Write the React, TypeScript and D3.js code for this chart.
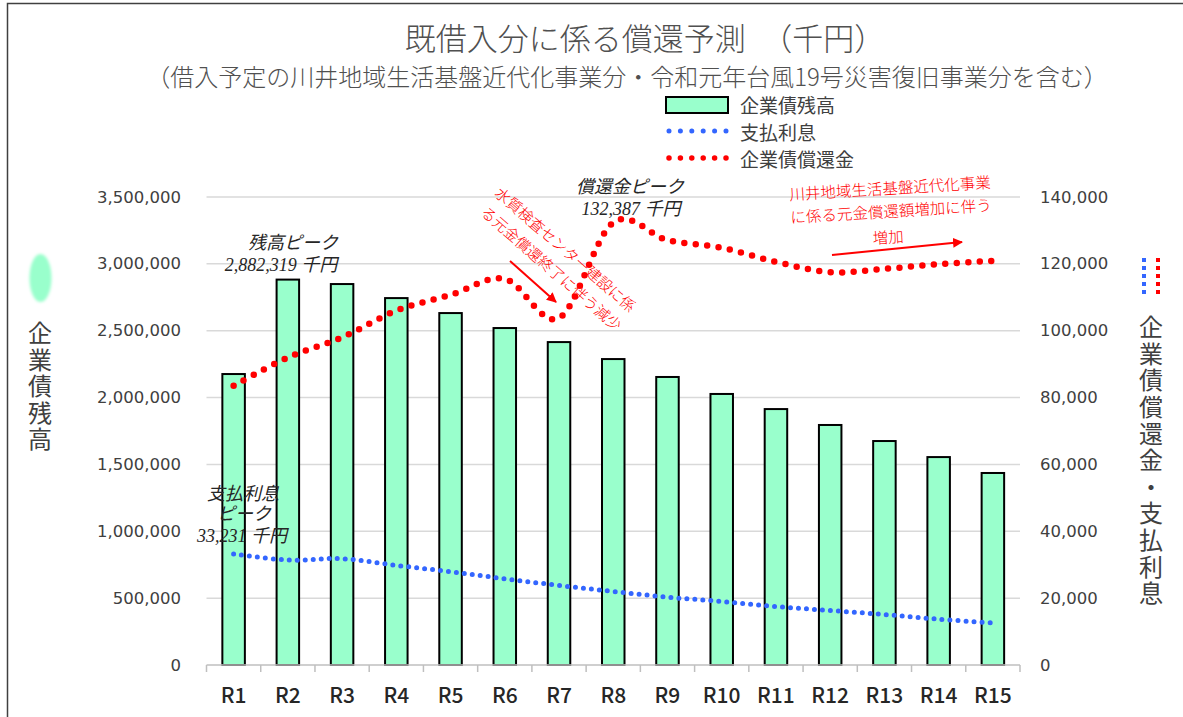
import React from "react";
import * as d3 from "d3";

const categories = ["R1","R2","R3","R4","R5","R6","R7","R8","R9","R10","R11","R12","R13","R14","R15"];
const balance = [2176000,2882319,2849000,2744000,2632000,2520000,2415000,2288000,2154000,2027000,1914000,1795000,1675000,1555000,1436000];
const interest = [33231,31400,31800,29800,27900,25800,23800,22000,20300,19000,17500,16300,15100,13700,12600];
const redemption = [83500,92000,98000,106000,110700,115500,103800,132387,127100,124800,120600,117500,118500,119900,120900];
const leftTicks = [0,500000,1000000,1500000,2000000,2500000,3000000,3500000];
const rightTicks = [0,20000,40000,60000,80000,100000,120000,140000];

const W = 1183, H = 717;
const TXT = "#404040";
const JP = "'Noto Sans CJK JP', 'Noto Sans', sans-serif";
const NUM = "'DejaVu Sans', sans-serif";
const ITAL = "'Liberation Serif', 'Noto Sans CJK JP', serif";
const MINT = "#99FFCC";

export default function App() {
  const x = d3.scaleBand<string>().domain(categories).range([206.5, 1020]).padding(0);
  const yL = d3.scaleLinear().domain([0, 3500000]).range([665, 197]);
  const yR = d3.scaleLinear().domain([0, 140000]).range([665, 197]);
  const bw = x.bandwidth();
  const barW = bw * 0.415;
  const cx = (c: string) => (x(c) as number) + bw / 2;

  const line = d3.line<number>()
    .x((_, i) => cx(categories[i]))
    .curve(d3.curveCardinal.tension(0));
  const redPath = line.y((d) => yR(d))(redemption) as string;
  const bluePath = line.y((d) => yR(d))(interest) as string;

  const fmt = d3.format(",");
  const boundaries = categories.map((c) => x(c) as number).concat([1020]);

  return (
    <svg width={W} height={H} style={{ position: "absolute", left: 0, top: 0, background: "#fff" }}>
      <defs>
        <filter id="blur" x="-50%" y="-50%" width="200%" height="200%">
          <feGaussianBlur stdDeviation="1.5" />
        </filter>
        <marker id="arr" viewBox="0 0 10 10" refX="9" refY="5" markerWidth="5" markerHeight="5" orient="auto">
          <path d="M0,0 L10,5 L0,10 z" fill="#ff0000" />
        </marker>
      </defs>
      <rect x={0} y={0} width={W} height={H} fill="#fff" />
      <path d="M7.5,717 V3.5 H1183" fill="none" stroke="#404040" strokeWidth={1.5} />

      {/* title */}
      <text x={645} y={36} textAnchor="middle" dominantBaseline="central" fontFamily={JP} fontSize={31} fontWeight={300} fill="#505050">
        既借入分に係る償還予測　（千円）
      </text>
      <text x={627} y={75} textAnchor="middle" dominantBaseline="central" fontFamily={JP} fontSize={24} fontWeight={300} fill="#505050">
        （借入予定の川井地域生活基盤近代化事業分・令和元年台風19号災害復旧事業分を含む）
      </text>

      {/* legend */}
      <rect x={666} y={97} width={62} height={16} fill={MINT} stroke="#000" strokeWidth={2} />
      <text x={740} y={104.5} dominantBaseline="central" fontFamily={JP} fontSize={19} fill={TXT}>企業債残高</text>
      <line x1={669} x2={727} y1={131} y2={131} stroke="#3366ff" strokeWidth={5} strokeLinecap="round" strokeDasharray="0 11.4" />
      <text x={740} y={131.5} dominantBaseline="central" fontFamily={JP} fontSize={19} fill={TXT}>支払利息</text>
      <line x1={669} x2={727} y1={158} y2={158} stroke="#ff0000" strokeWidth={5.5} strokeLinecap="round" strokeDasharray="0 11.4" />
      <text x={740} y={158.5} dominantBaseline="central" fontFamily={JP} fontSize={19} fill={TXT}>企業債償還金</text>

      {/* gridlines */}
      {leftTicks.slice(1).map((t) => (
        <line key={t} x1={206.5} x2={1020} y1={yL(t)} y2={yL(t)} stroke="#d9d9d9" strokeWidth={1.5} />
      ))}

      {/* left ticks */}
      {leftTicks.map((t) => (
        <text key={t} x={181} y={yL(t)} textAnchor="end" dominantBaseline="central" fontFamily={NUM} fontSize={16.5} fill={TXT}>{fmt(t)}</text>
      ))}
      {/* right ticks */}
      {rightTicks.map((t) => (
        <text key={t} x={1040} y={yR(t)} dominantBaseline="central" fontFamily={NUM} fontSize={16.5} fill={TXT}>{fmt(t)}</text>
      ))}

      {/* bars */}
      {categories.map((c, i) => (
        <rect key={c} x={cx(c) - barW / 2} y={yL(balance[i])} width={barW} height={665 - yL(balance[i])}
          fill={MINT} stroke="#000" strokeWidth={2} />
      ))}

      {/* x axis */}
      <line x1={206.5} x2={1020} y1={665} y2={665} stroke="#bfbfbf" strokeWidth={1.5} />
      {boundaries.map((b, i) => (
        <line key={i} x1={b} x2={b} y1={665} y2={672} stroke="#bfbfbf" strokeWidth={1.5} />
      ))}
      {categories.map((c) => (
        <text key={c} x={cx(c)} y={694} textAnchor="middle" dominantBaseline="central" fontFamily={JP} fontSize={21} fontWeight={500} fill="#262626">{c}</text>
      ))}

      {/* lines */}
      <path d={bluePath} fill="none" stroke="#3366ff" strokeWidth={5} strokeLinecap="round" strokeDasharray="0 8" />
      <path d={redPath} fill="none" stroke="#ff0000" strokeWidth={6.5} strokeLinecap="round" strokeDasharray="0 11.5" />

      {/* axis titles */}
      <ellipse cx={40.5} cy={278} rx={11} ry={24} fill={MINT} filter="url(#blur)" />
      <text x={40} y={321} style={{ writingMode: "vertical-rl" }} letterSpacing={2.5}
        fontFamily={JP} fontSize={24} fill={TXT}>企業債残高</text>
      <line x1={1144} x2={1144} y1={258} y2={297} stroke="#3366ff" strokeWidth={4} strokeDasharray="4 4" />
      <line x1={1158} x2={1158} y1={258} y2={297} stroke="#ff0000" strokeWidth={4} strokeDasharray="4 4" />
      <text x={1151} y={315} style={{ writingMode: "vertical-rl" }} letterSpacing={2.6}
        fontFamily={JP} fontSize={24} fill={TXT}>企業債償還金・支払利息</text>

      {/* annotations */}
      <g fontFamily={ITAL} fontStyle="italic" fontSize={18} fill="#262626" textAnchor="middle">
        <text x={293} y={243} dominantBaseline="central">残高ピーク</text>
        <text x={281} y={265} dominantBaseline="central">2,882,319 千円</text>
        <text x={630} y={187} dominantBaseline="central">償還金ピーク</text>
        <text x={631} y={209} dominantBaseline="central">132,387 千円</text>
        <text x={243} y={494} dominantBaseline="central">支払利息</text>
        <text x={244} y={514} dominantBaseline="central">ピーク</text>
        <text x={242} y={536} dominantBaseline="central">33,231 千円</text>
      </g>

      <g fontFamily={JP} fontSize={15} fontWeight={300} fill="#ff0000" textAnchor="middle">
        <text transform="translate(566,249) rotate(41)" dominantBaseline="central">水質検査センター建設に係</text>
        <text transform="translate(552,268) rotate(41)" dominantBaseline="central">る元金償還終了に伴う減少</text>
      </g>
      <line x1={510} y1={261} x2={556} y2={302} stroke="#ff0000" strokeWidth={2} markerEnd="url(#arr)" />

      <g fontFamily={JP} fontSize={15.5} fontWeight={300} fill="#ff0000" textAnchor="middle">
        <text transform="translate(890,187) rotate(-3.5)" dominantBaseline="central">川井地域生活基盤近代化事業</text>
        <text transform="translate(891,210) rotate(-3.5)" dominantBaseline="central">に係る元金償還額増加に伴う</text>
        <text transform="translate(888,236) rotate(-3.5)" dominantBaseline="central">増加</text>
      </g>
      <line x1={832} y1={255} x2={962} y2={242} stroke="#ff0000" strokeWidth={2} markerEnd="url(#arr)" />
    </svg>
  );
}
